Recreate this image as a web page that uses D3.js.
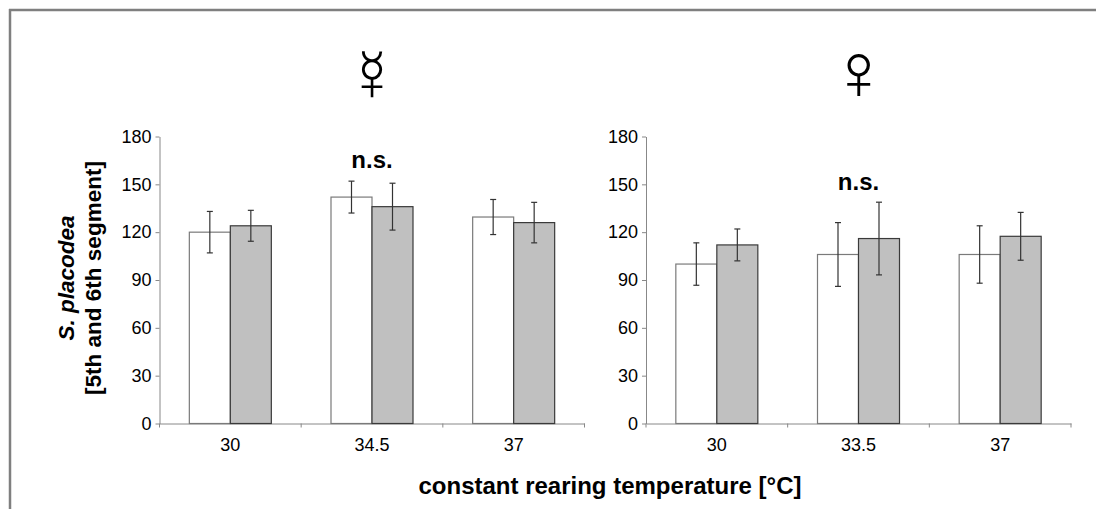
<!DOCTYPE html>
<html>
<head>
<meta charset="utf-8">
<script src="https://d3js.org/d3.v7.min.js"></script>
<style>
  html, body { margin: 0; background: #fff; overflow: hidden; }
  svg { display: block; }
  text { font-family: "Liberation Sans", Arial, sans-serif; }
</style>
</head>
<body>
<div id="mount"></div>
<script>
'use strict';

// categories (rearing temperature) for each panel
const leftCats  = ['30', '34.5', '37'];
const rightCats = ['30', '33.5', '37'];

// mean values and error bars, white / grey bars
const leftWhite     = [120, 142, 129.5];
const leftWhiteErr  = [13, 10, 11];
const leftGrey      = [124, 136, 126];
const leftGreyErr   = [9.7, 14.7, 12.7];

const rightWhite    = [100, 106, 106];
const rightWhiteErr = [13.3, 20, 18];
const rightGrey     = [112, 116, 117.4];
const rightGreyErr  = [10, 22.8, 15];

const yTicks = [0, 30, 60, 90, 120, 150, 180];
const panelSymbols = ['\u263F', '\u2640'];
const nsLevels = [160, 146.5];

const width = 1096, height = 509;

const svg = d3.select('#mount').append('svg')
    .attr('width', width)
    .attr('height', height);

// grey frame, only top and left edge show
svg.append('line')
    .attr('x1', 9).attr('x2', width).attr('y1', 10).attr('y2', 10)
    .style('stroke', '#7f7f7f').style('stroke-width', 2.5);
svg.append('line')
    .attr('x1', 10).attr('x2', 10).attr('y1', 9).attr('y2', height)
    .style('stroke', '#7f7f7f').style('stroke-width', 2.5);

const y = d3.scaleLinear().domain([0, 180]).range([423.5, 136.5]);

const panels = [
  { x0: 159.5, x1: 584.5, cats: leftCats, white: leftWhite, whiteErr: leftWhiteErr,
    grey: leftGrey, greyErr: leftGreyErr, sym: panelSymbols[0], ns: nsLevels[0] },
  { x0: 646, x1: 1071, cats: rightCats, white: rightWhite, whiteErr: rightWhiteErr,
    grey: rightGrey, greyErr: rightGreyErr, sym: panelSymbols[1], ns: nsLevels[1] }
];

panels.forEach((p, pi) => {
  const x = d3.scaleBand().domain(p.cats).range([p.x0, p.x1]).paddingInner(0);
  const bw = x.bandwidth();
  const sub = d3.scaleBand().domain(['white', 'grey']).range([bw / 2 - 41, bw / 2 + 41]);

  const g = svg.append('g');

  // y axis
  const yAxis = g.append('g')
      .attr('transform', `translate(${p.x0},0)`)
      .call(d3.axisLeft(y).tickValues(yTicks).tickSize(4).tickSizeOuter(0).tickPadding(4));
  yAxis.select('.domain').style('stroke', '#888');
  yAxis.selectAll('.tick line').style('stroke', '#888');
  yAxis.selectAll('.tick text')
      .style('font-size', '18px')
      .style('fill', '#000')
      .style('font-family', '"Liberation Sans", Arial, sans-serif');

  // x axis with labels at category centres
  const xAxis = g.append('g')
      .attr('transform', `translate(0,${y(0)})`)
      .call(d3.axisBottom(x).tickSize(0).tickPadding(15));
  xAxis.select('.domain').style('stroke', '#888');
  xAxis.selectAll('.tick text')
      .style('font-size', '18px')
      .style('fill', '#000')
      .style('font-family', '"Liberation Sans", Arial, sans-serif');

  // tick marks between categories
  const bounds = p.cats.map(c => x(c)).concat([x(p.cats[p.cats.length - 1]) + bw]);
  g.selectAll('.xtick')
      .data(bounds)
    .enter().append('line')
      .attr('x1', d => d).attr('x2', d => d)
      .attr('y1', y(0)).attr('y2', y(0) + 4)
      .style('stroke', '#888');

  const rows = p.cats.map((c, i) => [
    { cat: c, key: 'white', v: p.white[i], e: p.whiteErr[i] },
    { cat: c, key: 'grey',  v: p.grey[i],  e: p.greyErr[i] }
  ]).flat();

  // bars
  g.selectAll('.bar')
      .data(rows)
    .enter().append('rect')
      .attr('x', d => x(d.cat) + sub(d.key))
      .attr('y', d => y(d.v))
      .attr('width', sub.bandwidth())
      .attr('height', d => y(0) - y(d.v))
      .style('fill', d => d.key === 'white' ? '#fff' : '#c0c0c0')
      .style('stroke', d => d.key === 'white' ? '#7a7a7a' : '#3a3a3a')
      .style('stroke-width', 1.2);

  // error bars
  const cx = d => x(d.cat) + sub(d.key) + sub.bandwidth() / 2;
  const err = g.selectAll('.err')
      .data(rows)
    .enter().append('g')
      .style('stroke', '#333')
      .style('stroke-width', 1.2);
  err.append('line')
      .attr('x1', cx).attr('x2', cx)
      .attr('y1', d => y(d.v + d.e)).attr('y2', d => y(d.v - d.e));
  err.append('line')
      .attr('x1', d => cx(d) - 3).attr('x2', d => cx(d) + 3)
      .attr('y1', d => y(d.v + d.e)).attr('y2', d => y(d.v + d.e));
  err.append('line')
      .attr('x1', d => cx(d) - 3).attr('x2', d => cx(d) + 3)
      .attr('y1', d => y(d.v - d.e)).attr('y2', d => y(d.v - d.e));

  // n.s. above the middle group
  g.append('text')
      .attr('x', x(p.cats[1]) + bw / 2)
      .attr('y', y(p.ns))
      .attr('text-anchor', 'middle')
      .style('font-size', '24px')
      .style('font-weight', 'bold')
      .text('n.s.');

  // sex symbol above each panel
  const sym = g.append('text')
      .attr('x', (p.x0 + p.x1) / 2)
      .attr('text-anchor', 'middle')
      .text(p.sym);
  if (pi === 0) {
    sym.attr('y', 100)
        .style('font-family', '"DejaVu Sans", sans-serif')
        .style('font-weight', 200)
        .style('font-size', '72px');
  } else {
    sym.attr('y', 99)
        .style('font-family', '"Liberation Sans", Arial, sans-serif')
        .style('font-size', '80px');
  }
});

// y axis title
const yTitle = svg.append('text')
    .attr('transform', 'translate(0,278) rotate(-90)')
    .attr('text-anchor', 'middle')
    .style('font-size', '22.5px')
    .style('font-weight', 'bold');
yTitle.append('tspan')
    .attr('x', 0).attr('y', 74)
    .style('font-style', 'italic')
    .text('S. placodea');
yTitle.append('tspan')
    .attr('x', 0).attr('y', 101)
    .text('[5th and 6th segment]');

// x axis title
svg.append('text')
    .attr('x', 610)
    .attr('y', 494)
    .attr('text-anchor', 'middle')
    .style('font-size', '24px')
    .style('font-weight', 'bold')
    .text('constant rearing temperature [°C]');
</script>
</body>
</html>
